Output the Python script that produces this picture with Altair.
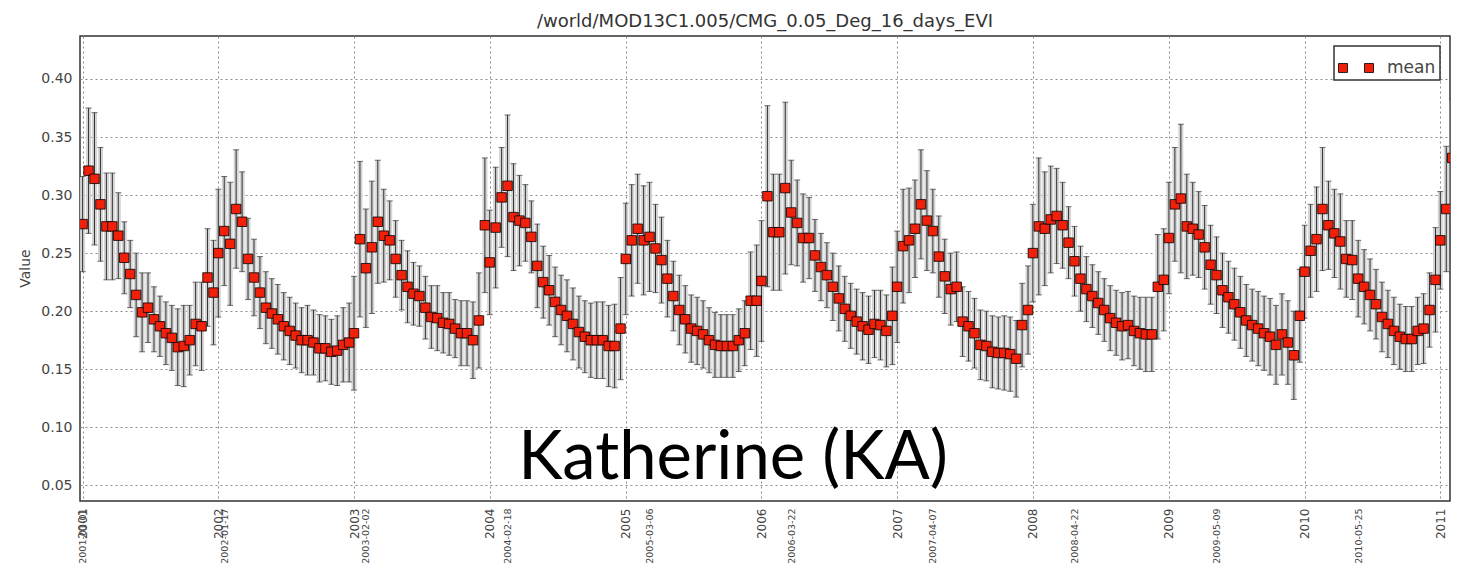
import altair as alt
import pandas as pd
from datetime import date, timedelta

# 16-day EVI composites: mean and standard deviation per composite period, by year
mean_2001 = [0.275, 0.321, 0.314, 0.292, 0.273, 0.273, 0.265, 0.246, 0.232, 0.214, 0.199, 0.203,
             0.193, 0.187, 0.181, 0.177, 0.169, 0.170, 0.175, 0.189, 0.187, 0.229, 0.216]
sd_2001 = [0.041, 0.054, 0.057, 0.049, 0.046, 0.046, 0.037, 0.031, 0.029, 0.036, 0.034, 0.030,
           0.028, 0.026, 0.027, 0.028, 0.033, 0.035, 0.030, 0.036, 0.038, 0.042, 0.045]

mean_2002 = [0.250, 0.269, 0.258, 0.288, 0.277, 0.245, 0.229, 0.216, 0.203, 0.198, 0.193, 0.187,
             0.183, 0.179, 0.175, 0.175, 0.173, 0.168, 0.168, 0.165, 0.166, 0.171, 0.173]
sd_2002 = [0.055, 0.047, 0.053, 0.051, 0.043, 0.035, 0.033, 0.031, 0.031, 0.030, 0.030, 0.029,
           0.029, 0.028, 0.028, 0.030, 0.028, 0.029, 0.028, 0.028, 0.030, 0.032, 0.034]

mean_2003 = [0.181, 0.262, 0.237, 0.255, 0.277, 0.265, 0.261, 0.245, 0.231, 0.221, 0.215, 0.213,
             0.203, 0.195, 0.194, 0.190, 0.189, 0.185, 0.181, 0.181, 0.175, 0.192, 0.274]
sd_2003 = [0.049, 0.067, 0.051, 0.057, 0.053, 0.040, 0.034, 0.033, 0.030, 0.031, 0.027, 0.026,
           0.027, 0.027, 0.028, 0.026, 0.027, 0.025, 0.028, 0.028, 0.033, 0.041, 0.058]

mean_2004 = [0.242, 0.272, 0.298, 0.308, 0.281, 0.278, 0.276, 0.264, 0.239, 0.225, 0.218, 0.208,
             0.201, 0.196, 0.189, 0.182, 0.178, 0.175, 0.175, 0.175, 0.170, 0.170, 0.185]
sd_2004 = [0.045, 0.052, 0.043, 0.061, 0.046, 0.039, 0.033, 0.031, 0.036, 0.031, 0.030, 0.030,
           0.030, 0.031, 0.031, 0.031, 0.031, 0.032, 0.033, 0.033, 0.035, 0.036, 0.044]

mean_2005 = [0.245, 0.261, 0.271, 0.261, 0.264, 0.254, 0.244, 0.228, 0.213, 0.201, 0.193, 0.185,
             0.183, 0.180, 0.175, 0.171, 0.170, 0.170, 0.170, 0.175, 0.181, 0.209, 0.209]
sd_2005 = [0.048, 0.048, 0.047, 0.047, 0.047, 0.038, 0.037, 0.033, 0.030, 0.030, 0.029, 0.029,
           0.029, 0.029, 0.028, 0.028, 0.027, 0.027, 0.027, 0.027, 0.028, 0.042, 0.048]

mean_2006 = [0.226, 0.299, 0.268, 0.268, 0.306, 0.285, 0.276, 0.263, 0.263, 0.248, 0.238, 0.231,
             0.221, 0.211, 0.202, 0.196, 0.191, 0.187, 0.184, 0.189, 0.188, 0.183, 0.196]
sd_2006 = [0.052, 0.078, 0.050, 0.050, 0.074, 0.045, 0.037, 0.038, 0.035, 0.031, 0.029, 0.028,
           0.029, 0.028, 0.028, 0.028, 0.028, 0.029, 0.029, 0.029, 0.030, 0.031, 0.042]

mean_2007 = [0.221, 0.256, 0.261, 0.271, 0.292, 0.278, 0.269, 0.247, 0.230, 0.219, 0.221, 0.191,
             0.187, 0.181, 0.171, 0.170, 0.165, 0.164, 0.164, 0.163, 0.159, 0.188, 0.201]
sd_2007 = [0.048, 0.049, 0.045, 0.042, 0.047, 0.043, 0.036, 0.035, 0.032, 0.031, 0.030, 0.030,
           0.030, 0.030, 0.030, 0.030, 0.031, 0.031, 0.032, 0.032, 0.033, 0.036, 0.038]

mean_2008 = [0.250, 0.273, 0.271, 0.279, 0.282, 0.274, 0.259, 0.243, 0.228, 0.219, 0.213, 0.207,
             0.201, 0.194, 0.190, 0.187, 0.188, 0.183, 0.181, 0.180, 0.180, 0.221, 0.227]
sd_2008 = [0.042, 0.059, 0.049, 0.046, 0.041, 0.037, 0.031, 0.030, 0.028, 0.028, 0.027, 0.027,
           0.027, 0.028, 0.028, 0.029, 0.029, 0.030, 0.031, 0.032, 0.032, 0.045, 0.044]

mean_2009 = [0.263, 0.292, 0.297, 0.273, 0.271, 0.266, 0.255, 0.240, 0.231, 0.218, 0.212, 0.206,
             0.199, 0.192, 0.188, 0.185, 0.181, 0.178, 0.171, 0.180, 0.173, 0.162, 0.196]
sd_2009 = [0.048, 0.049, 0.064, 0.045, 0.040, 0.037, 0.036, 0.034, 0.033, 0.032, 0.031, 0.031,
           0.031, 0.031, 0.031, 0.032, 0.032, 0.033, 0.034, 0.035, 0.036, 0.038, 0.040]

mean_2010 = [0.234, 0.252, 0.262, 0.288, 0.274, 0.267, 0.260, 0.245, 0.244, 0.228, 0.221, 0.214,
             0.206, 0.195, 0.189, 0.183, 0.178, 0.176, 0.176, 0.183, 0.185, 0.201, 0.227]
sd_2010 = [0.040, 0.040, 0.045, 0.053, 0.038, 0.038, 0.041, 0.033, 0.034, 0.033, 0.032, 0.031,
           0.030, 0.030, 0.029, 0.029, 0.028, 0.028, 0.028, 0.029, 0.030, 0.032, 0.045]

mean_2011 = [0.261, 0.288, 0.332]
sd_2011 = [0.042, 0.054, 0.050]

means = {2001: mean_2001, 2002: mean_2002, 2003: mean_2003, 2004: mean_2004, 2005: mean_2005,
         2006: mean_2006, 2007: mean_2007, 2008: mean_2008, 2009: mean_2009, 2010: mean_2010,
         2011: mean_2011}
sds = {2001: sd_2001, 2002: sd_2002, 2003: sd_2003, 2004: sd_2004, 2005: sd_2005,
       2006: sd_2006, 2007: sd_2007, 2008: sd_2008, 2009: sd_2009, 2010: sd_2010,
       2011: sd_2011}

# Axis tick positions: one per year, plus the dated minor ticks
year_ticks = ["2001-01-01", "2002-01-01", "2003-01-01", "2004-01-01", "2005-01-01", "2006-01-01",
              "2007-01-01", "2008-01-01", "2009-01-01", "2010-01-01", "2011-01-01"]
date_ticks = ["2001-01-01", "2002-01-17", "2003-02-02", "2004-02-18", "2005-03-06", "2006-03-22",
              "2007-04-07", "2008-04-22", "2009-05-09", "2010-05-25"]
value_ticks = [0.05, 0.10, 0.15, 0.20, 0.25, 0.30, 0.35, 0.40]

title_text = "/world/MOD13C1.005/CMG_0.05_Deg_16_days_EVI"
site_label = "Katherine (KA)"
series_name = "mean"

rows = []
for yr in sorted(means):
    start = date(yr, 1, 1)
    for k, (m, s) in enumerate(zip(means[yr], sds[yr])):
        d = start + timedelta(days=16 * k)
        rows.append({"date": d.isoformat(), "mean": m, "lo": m - s, "hi": m + s,
                     "series": series_name})
df = pd.DataFrame(rows)


def utc_dt(s):
    y, mo, d = (int(p) for p in s.split("-"))
    return alt.DateTime(year=y, month=mo, date=d, utc=True)


x_scale = alt.Scale(type="utc", domain=[utc_dt("2000-12-25"), utc_dt("2011-01-27")], nice=False)
y_scale = alt.Scale(domain=[0.0365, 0.437], nice=False, zero=False)

label_font = "DejaVu Sans"
grid_color = "#8a8a8a"

year_axis = alt.Axis(values=[utc_dt(s) for s in year_ticks],
                     labelExpr="utcFormat(datum.value, '%Y')",
                     labelAngle=270, labelAlign="right", labelBaseline="middle",
                     labelFont=label_font, labelFontSize=12, labelColor="#444",
                     labelPadding=7, labelOverlap=False, labelFlush=False, labelBound=False,
                     grid=True, gridDash=[2, 3], gridColor=grid_color, gridWidth=1,
                     ticks=False, domain=False, title=None, orient="bottom")
date_axis = alt.Axis(values=[utc_dt(s) for s in date_ticks],
                     labelExpr="utcFormat(datum.value, '%Y-%m-%d')",
                     labelAngle=270, labelAlign="right", labelBaseline="middle",
                     labelFont=label_font, labelFontSize=9.5, labelColor="#444",
                     labelPadding=7, labelOverlap=False, labelFlush=False, labelBound=False,
                     grid=False, ticks=False, domain=False, title=None, orient="bottom")
y_axis = alt.Axis(values=value_ticks, format=".2f", grid=True, gridDash=[2, 3],
                  gridColor=grid_color, gridWidth=1, ticks=False, domain=False,
                  labelFont=label_font, labelFontSize=14, labelColor="#444", labelPadding=8,
                  title="Value", titleFont=label_font, titleFontSize=14,
                  titleFontWeight="normal", titleColor="#444", titleAngle=270,
                  titleX=-55, titleY=232, titleAlign="center", titleBaseline="middle")

base = alt.Chart(df)
y_enc = alt.Y("lo:Q", scale=y_scale, axis=y_axis)

# light grey column behind each error bar
err_fill = base.mark_rule(color="#d4d4d4", strokeWidth=5, clip=True).encode(
    x=alt.X("date:T", scale=x_scale, axis=year_axis),
    y=y_enc,
    y2="hi:Q",
)
# dark error bar line
err_line = base.mark_rule(color="#333333", strokeWidth=1, clip=True).encode(
    x=alt.X("date:T", scale=x_scale, axis=date_axis),
    y=y_enc,
    y2="hi:Q",
)
cap_lo = base.mark_tick(color="#333333", orient="horizontal", size=6, thickness=1,
                        clip=True).encode(
    x=alt.X("date:T", scale=x_scale, axis=None),
    y=y_enc,
)
cap_hi = base.mark_tick(color="#333333", orient="horizontal", size=6, thickness=1,
                        clip=True).encode(
    x=alt.X("date:T", scale=x_scale, axis=None),
    y=alt.Y("hi:Q", scale=y_scale, axis=y_axis),
)

# two squares side by side, as in the legend entry
pair_symbol = ("M-1,-0.257L-0.486,-0.257L-0.486,0.257L-1,0.257Z"
               "M0.486,-0.257L1,-0.257L1,0.257L0.486,0.257Z")

points = base.mark_square(size=90, filled=True, stroke="black", strokeWidth=0.8, opacity=1,
                          clip=True).encode(
    x=alt.X("date:T", scale=x_scale, axis=None),
    y=alt.Y("mean:Q", scale=y_scale, axis=y_axis),
    color=alt.Color("series:N", scale=alt.Scale(domain=[series_name], range=["#f0200a"]),
                    legend=alt.Legend(title=None, orient="top-right", offset=10,
                                      symbolType=pair_symbol, symbolSize=1225,
                                      symbolStrokeColor="black", symbolStrokeWidth=0.8,
                                      symbolFillColor="#f0200a",
                                      labelFont=label_font, labelFontSize=17,
                                      labelColor="#444", labelOffset=13,
                                      strokeColor="#333", fillColor="white",
                                      padding=4, cornerRadius=0)),
)

label_df = pd.DataFrame({"label": [site_label]})
site_text = alt.Chart(label_df).mark_text(font="Lato", fontSize=67, color="black",
                                          align="center", baseline="alphabetic").encode(
    text="label:N",
    x=alt.value(653),
    y=alt.value(443),
)

chart = alt.layer(err_fill, err_line, cap_lo, cap_hi, points, site_text).resolve_axis(
    x="independent"
).properties(
    width=1370,
    height=465,
    padding={"left": 80, "top": 36, "right": 27, "bottom": 65},
    autosize=alt.AutoSizeParams(type="none"),
    title=alt.TitleParams(title_text, font=label_font, fontSize=18, fontWeight="normal",
                          color="#333", anchor="middle", offset=5),
    background="white",
).configure_view(stroke="#333", strokeWidth=1.5).configure_legend(strokeWidth=1.5)

chart.save("out.html", embed_options={"renderer": "svg", "actions": False})
